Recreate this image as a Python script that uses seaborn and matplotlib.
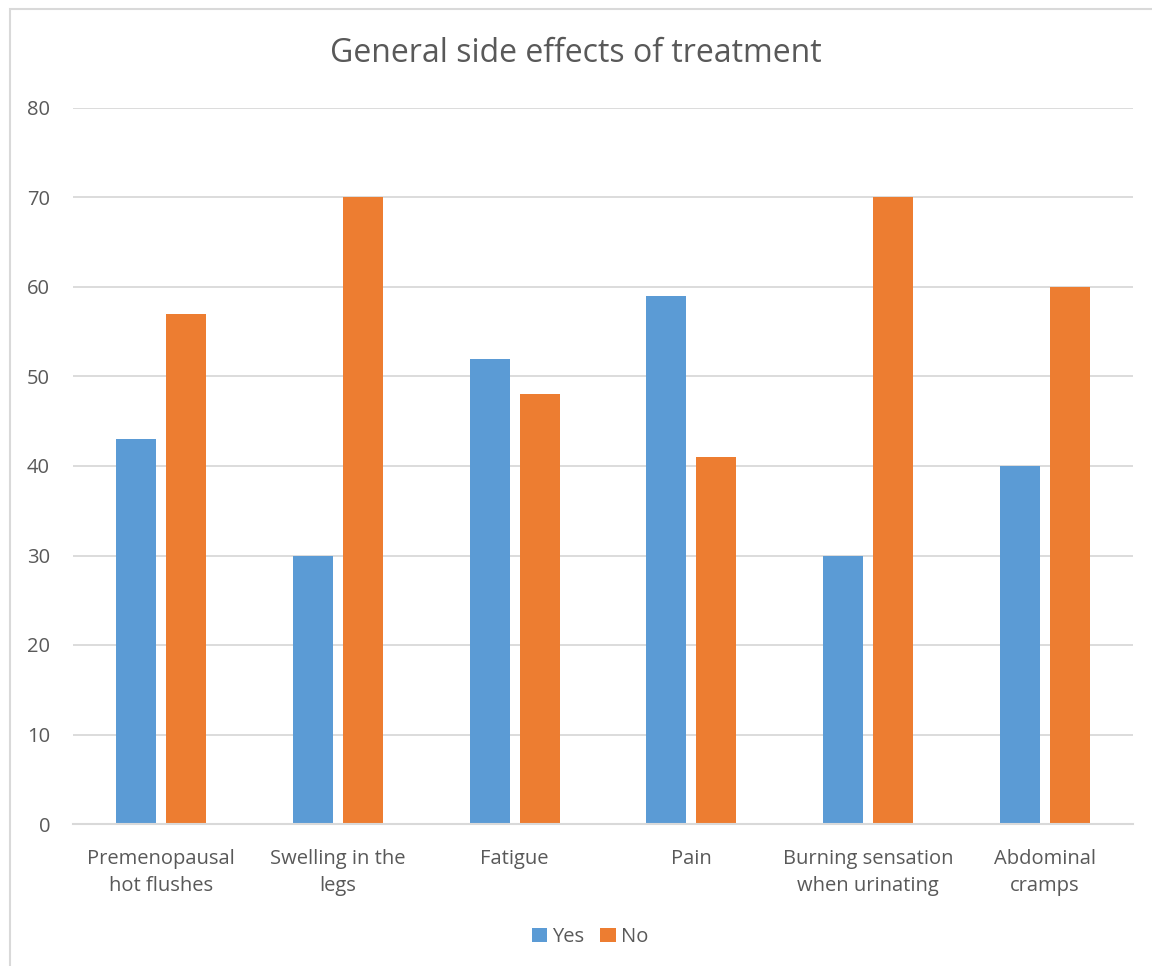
import matplotlib
matplotlib.use("Agg")
import matplotlib.pyplot as plt
from matplotlib.patches import Rectangle
import seaborn as sns
import pandas as pd

categories = ["Premenopausal\nhot flushes", "Swelling in the\nlegs", "Fatigue", "Pain",
              "Burning sensation\nwhen urinating", "Abdominal\ncramps"]
yes_values = [43, 30, 52, 59, 30, 40]
no_values = [57, 70, 48, 41, 70, 60]
series = ["Yes", "No"]
y_ticks = [0, 10, 20, 30, 40, 50, 60, 70, 80]

df = pd.DataFrame({
    "category": categories * 2,
    "answer": [series[0]] * len(categories) + [series[1]] * len(categories),
    "value": yes_values + no_values,
})

sns.set_theme(style="white")
plt.rcParams["font.family"] = ["Open Sans", "DejaVu Sans"]
text_color = "#595959"
grid_color = "#d9d9d9"

fig = plt.figure(figsize=(11.52, 9.66), dpi=100)
ax = fig.add_axes([73 / 1152, 1 - 824 / 966, (1133 - 73) / 1152, (824 - 108) / 966])

sns.barplot(data=df, x="category", y="value", hue="answer", hue_order=series,
            palette=["#5b9bd5", "#ed7d31"], width=0.566, gap=0.2, saturation=1,
            linewidth=0, ax=ax, legend=True)

ax.set_ylim(0, 80)
ax.set_xlim(-0.5, len(categories) - 0.5)
ax.set_yticks(y_ticks)
ax.yaxis.grid(True, color=grid_color, linewidth=1.3)
ax.set_axisbelow(True)
for side in ["top", "right", "left"]:
    ax.spines[side].set_visible(False)
ax.spines["bottom"].set_color(grid_color)
ax.spines["bottom"].set_linewidth(1.5)
ax.tick_params(axis="both", length=0, colors=text_color, labelsize=14.5)
ax.tick_params(axis="y", pad=16.5)
ax.tick_params(axis="x", pad=18)
ax.set_xlabel("")
ax.set_ylabel("")
for lbl in ax.get_xticklabels():
    lbl.set_linespacing(1.45)

ax.legend(loc="center", bbox_to_anchor=((590 - 73) / 1060, (1 - 937 / 966 - (1 - 824 / 966)) / ((824 - 108) / 966)),
          ncol=2, frameon=False, fontsize=14.5, handlelength=0.75, handleheight=0.75,
          handletextpad=0.25, columnspacing=0.8, labelcolor=text_color)

fig.text(0.5, 1 - 53 / 966, "General side effects of treatment", ha="center", va="center",
         fontsize=23, color=text_color)

# outer chart frame
fig.add_artist(Rectangle((10 / 1152, -0.1), 1.2, 1 - 9 / 966 + 0.1, transform=fig.transFigure,
                         fill=False, edgecolor=grid_color, linewidth=1.5))

fig.savefig("out.png", dpi=100, facecolor="white")
